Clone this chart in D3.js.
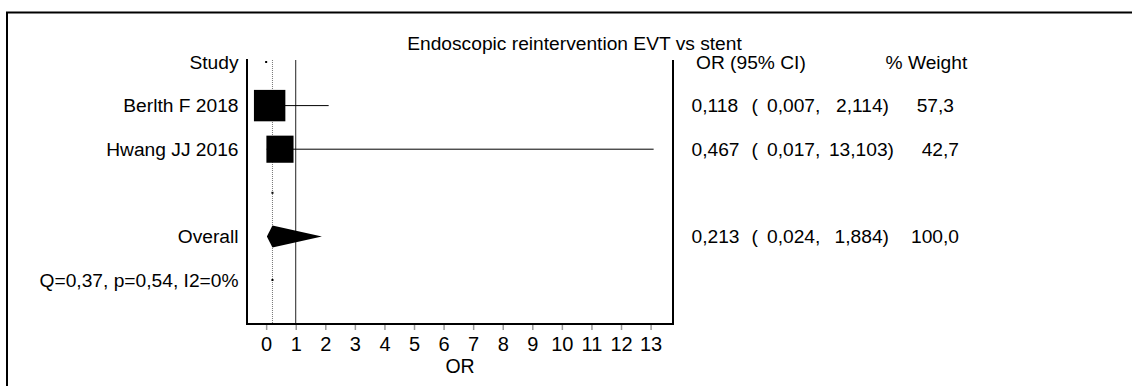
<!DOCTYPE html>
<html>
<head>
<meta charset="utf-8">
<script src="https://cdn.jsdelivr.net/npm/d3@7"></script>
<style>
  html, body { margin: 0; padding: 0; background: #fff; }
  svg { display: block; }
  text { font-family: "Liberation Sans", Arial, Helvetica, sans-serif; fill: #000; }
</style>
</head>
<body>
<svg id="chart" width="1132" height="386"></svg>
<script>
// ---- data ----
const title = "Endoscopic reintervention EVT vs stent";
const rowLabels = ["Study", "Berlth F 2018", "Hwang JJ 2016", "", "Overall", "Q=0,37, p=0,54, I2=0%"];
const studies = ["Berlth F 2018", "Hwang JJ 2016"];
const studyOR = [0.118, 0.467];
const studyLower = [0.007, 0.017];
const studyUpper = [2.114, 13.103];
const studyWeight = [57.3, 42.7];
const overallOR = 0.213;
const overallLower = 0.024;
const overallUpper = 1.884;
const overallWeight = 100.0;
const tickValues = [0, 1, 2, 3, 4, 5, 6, 7, 8, 9, 10, 11, 12, 13];
const xLabel = "OR";
const colHeaders = ["OR (95% CI)", "% Weight"];

// ---- layout ----
const svg = d3.select("#chart");
const plotLeft = 247, plotRight = 673, plotTop = 59, plotBottom = 324;
const fs = 19.2;
const fmt = v => v.toFixed(3).replace(".", ",");
const fmtW = v => v.toFixed(1).replace(".", ",");

// outer frame (left and top edges)
svg.append("path")
  .attr("d", "M7,1200 L7,12.5 L1200,12.5")
  .attr("fill", "none").attr("stroke", "#000").attr("stroke-width", 2);

// x scale: CI extent padded by 5% each side
const allLo = d3.min(studyLower.concat([overallLower]));
const allHi = d3.max(studyUpper.concat([overallUpper]));
const pad = (allHi - allLo) * 0.05;
const x = d3.scaleLinear().domain([allLo - pad, allHi + pad]).range([plotLeft, plotRight]);

// row positions
const y = d3.scalePoint().domain(d3.range(rowLabels.length)).range([62, 280]);

// title
svg.append("text")
  .attr("x", 574.5).attr("y", 49.5)
  .attr("text-anchor", "middle")
  .style("font-size", fs + "px")
  .text(title);

// reference line at OR = 1
svg.append("line")
  .attr("x1", x(1)).attr("x2", x(1))
  .attr("y1", 60).attr("y2", plotBottom)
  .attr("stroke", "#222").attr("stroke-width", 1);

// dotted line at pooled estimate
svg.append("line")
  .attr("x1", x(overallOR)).attr("x2", x(overallOR))
  .attr("y1", 60).attr("y2", plotBottom)
  .attr("stroke", "#777").attr("stroke-width", 1)
  .attr("stroke-dasharray", "1,1");

// frame of the plot: left, bottom, right
svg.append("path")
  .attr("d", `M${plotLeft},${plotTop} L${plotLeft},${plotBottom} L${plotRight},${plotBottom} L${plotRight},60`)
  .attr("fill", "none").attr("stroke", "#000").attr("stroke-width", 2);

// x axis ticks and labels
const axis = d3.axisBottom(x).tickValues(tickValues).tickSize(5).tickPadding(7).tickFormat(d3.format("d"));
const gx = svg.append("g").attr("transform", `translate(0,${plotBottom + 1})`).call(axis);
gx.select(".domain").remove();
gx.selectAll(".tick line").attr("stroke", "#999").attr("stroke-width", 1.5);
gx.selectAll(".tick text").style("font-size", "20px").style("font-family", "Liberation Sans, Arial, sans-serif").attr("fill", "#000");

svg.append("text")
  .attr("x", (plotLeft + plotRight) / 2).attr("y", 373)
  .attr("text-anchor", "middle")
  .style("font-size", "19.5px")
  .text(xLabel);

// row labels on the left
svg.selectAll("text.rowlab")
  .data(rowLabels)
  .enter().append("text")
  .attr("class", "rowlab")
  .attr("x", 238.5)
  .attr("y", (d, i) => y(i) + 6.5)
  .attr("text-anchor", "end")
  .style("font-size", fs + "px")
  .text(d => d);

// tiny placeholder marks in rows without a box
const emptyRows = [{ row: 0, v: 0 }, { row: 3, v: overallOR }, { row: 5, v: overallOR }];
svg.selectAll("rect.dot")
  .data(emptyRows)
  .enter().append("rect")
  .attr("x", d => x(d.v) - 1).attr("y", d => y(d.row) - 1)
  .attr("width", 2).attr("height", 2)
  .attr("fill", "#000");

// study CIs and boxes
const studyRows = studies.map((s, i) => ({
  name: s, or: studyOR[i], lo: studyLower[i], hi: studyUpper[i], w: studyWeight[i], row: i + 1
}));

svg.selectAll("line.ci")
  .data(studyRows)
  .enter().append("line")
  .attr("x1", d => x(d.lo)).attr("x2", d => x(d.hi))
  .attr("y1", d => y(d.row)).attr("y2", d => y(d.row))
  .attr("stroke", "#000").attr("stroke-width", 1);

const boxScale = 4.15;
svg.selectAll("rect.box")
  .data(studyRows)
  .enter().append("rect")
  .attr("x", d => x(d.or) - boxScale * Math.sqrt(d.w) / 2)
  .attr("y", d => y(d.row) - boxScale * Math.sqrt(d.w) / 2)
  .attr("width", d => boxScale * Math.sqrt(d.w))
  .attr("height", d => boxScale * Math.sqrt(d.w))
  .attr("fill", "#000");

// pooled diamond
const yo = y(4);
svg.append("path")
  .attr("d", `M${x(overallLower)},${yo} L${x(overallOR)},${yo - 11} L${x(overallUpper)},${yo} L${x(overallOR)},${yo + 11} Z`)
  .attr("fill", "#000");

// right-hand table
svg.append("text").attr("x", 696).attr("y", y(0) + 6.5).style("font-size", fs + "px").text(colHeaders[0]);
svg.append("text").attr("x", 885.5).attr("y", y(0) + 6.5).style("font-size", fs + "px").text(colHeaders[1]);

const tableRows = studyRows.concat([{ or: overallOR, lo: overallLower, hi: overallUpper, w: overallWeight, row: 4 }]);
const intDigits = v => String(Math.floor(v)).length;

tableRows.forEach(d => {
  const by = y(d.row) + 6.5;
  const g = svg.append("g").style("font-size", fs + "px");
  g.append("text").attr("x", 691.5).attr("y", by).text(fmt(d.or));
  g.append("text").attr("x", 751.5).attr("y", by).text("(");
  g.append("text").attr("x", 767).attr("y", by).text(fmt(d.lo) + ",");
  const upEnd = 889 + (intDigits(d.hi) - 1) * 5;
  g.append("text").attr("x", upEnd).attr("y", by).attr("text-anchor", "end").text(fmt(d.hi) + ")");
  const wEnd = upEnd + 65 + (intDigits(d.w) - 2) * 5;
  g.append("text").attr("x", wEnd).attr("y", by).attr("text-anchor", "end").text(fmtW(d.w));
});
</script>
</body>
</html>
